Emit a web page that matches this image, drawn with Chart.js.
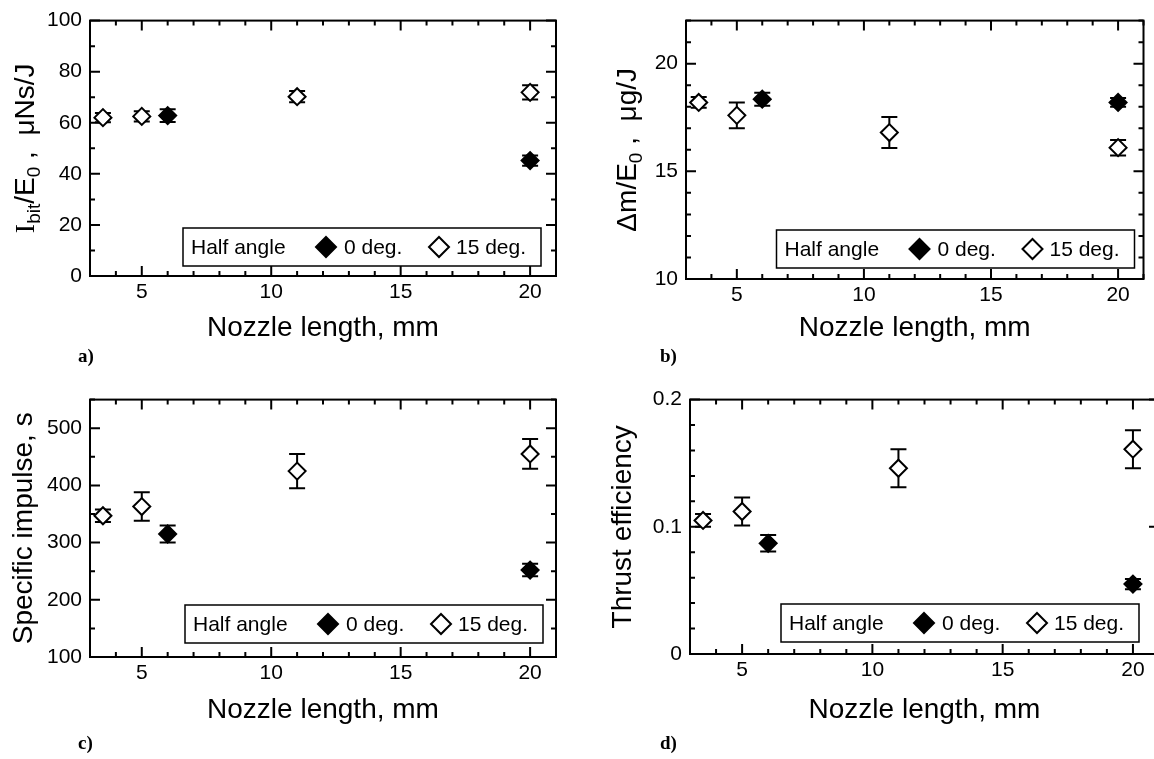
<!DOCTYPE html>
<html><head><meta charset="utf-8">
<script src="https://cdn.jsdelivr.net/npm/chart.js@4.4.1/dist/chart.umd.min.js"></script>
<style>
html,body{margin:0;padding:0;background:#fff;overflow:hidden;width:1154px;height:759px;position:relative;}
canvas{position:absolute;display:block;}
.cap{position:absolute;font:bold 19px "Liberation Serif","Times New Roman",serif;color:#000;line-height:1;}
</style></head><body>
<canvas id="ca" width="577" height="379" style="left:0;top:0"></canvas>
<canvas id="cb" width="577" height="379" style="left:577px;top:0"></canvas>
<canvas id="cc" width="577" height="380" style="left:0;top:379px"></canvas>
<canvas id="cd" width="600" height="380" style="left:577px;top:379px"></canvas>
<div class="cap" style="left:78px;top:346px">a)</div>
<div class="cap" style="left:660px;top:346px">b)</div>
<div class="cap" style="left:78px;top:733px">c)</div>
<div class="cap" style="left:660px;top:733px">d)</div>
<script>
// ---- data ----
const xFilled = [6, 20];            // 0 deg. half angle
const xOpen = [3.5, 5, 11, 20];     // 15 deg. half angle
const xTicks = [5, 10, 15, 20];
const seriesNames = ['0 deg.', '15 deg.'];
const legendTitle = 'Half angle';
const xTitle = 'Nozzle length, mm';

// a) impulse bit per energy, uNs/J
const impFilled = [62.8, 45.2];
const impFilledErr = [2.5, 2.0];
const impOpen = [62.0, 62.5, 70.2, 71.9];
const impOpenErr = [1.8, 2.0, 2.2, 2.8];
const impTicks = [0, 20, 40, 60, 80, 100];

// b) mass shot per energy, ug/J
const massFilled = [18.35, 18.2];
const massFilledErr = [0.3, 0.2];
const massOpen = [18.2, 17.6, 16.8, 16.1];
const massOpenErr = [0.25, 0.6, 0.72, 0.36];
const massTicks = [10, 15, 20];

// c) specific impulse, s
const ispFilled = [315, 252];
const ispFilledErr = [15, 11];
const ispOpen = [347, 363, 425, 455];
const ispOpenErr = [11, 25, 30, 26];
const ispTicks = [100, 200, 300, 400, 500];
const ispTitle = 'Specific impulse, s';

// d) thrust efficiency
const effFilled = [0.087, 0.055];
const effFilledErr = [0.0065, 0.004];
const effOpen = [0.105, 0.112, 0.146, 0.161];
const effOpenErr = [0.005, 0.011, 0.015, 0.015];
const effTicks = [0, 0.1, 0.2];
const effTitle = 'Thrust efficiency';

const titleA = [['I', 'n', 'serif'], ['bit', 's'], ['/E', 'n'], ['0', 's'], [' ,  \u03bcNs/J', 'n']];
const titleB = [['\u0394m/E', 'n'], ['0', 's'], [' ,  \u03bcg/J', 'n']];

// ---- drawing helpers ----
const FONT = '"Liberation Sans", Arial, sans-serif';
const SERIF = '"Liberation Serif", "Times New Roman", serif';

const framePlugin = {
  id: 'frame',
  beforeDatasetsDraw(chart, args, opts) {
    const {ctx, chartArea: a, scales: {x, y}} = chart;
    ctx.save();
    ctx.strokeStyle = '#000';
    ctx.lineWidth = 2;
    ctx.strokeRect(a.left, a.top, a.right - a.left, a.bottom - a.top);
    const set = (scale, step) => {
      const out = [];
      const n0 = Math.ceil(scale.min / step - 1e-6), n1 = Math.floor(scale.max / step + 1e-6);
      for (let n = n0; n <= n1; n++) {
        const v = n * step;
        out.push({v, major: scale.ticks.some(t => Math.abs(t.value - v) < step * 1e-3)});
      }
      return out;
    };
    ctx.beginPath();
    for (const t of set(x, opts.minorX)) {
      const p = x.getPixelForValue(t.v), L = t.major ? 10 : 5;
      ctx.moveTo(p, a.bottom); ctx.lineTo(p, a.bottom - L);
      ctx.moveTo(p, a.top); ctx.lineTo(p, a.top + L);
    }
    for (const t of set(y, opts.minorY)) {
      const p = y.getPixelForValue(t.v), L = t.major ? 10 : 5;
      ctx.moveTo(a.left, p); ctx.lineTo(a.left + L, p);
      ctx.moveTo(a.right, p); ctx.lineTo(a.right - L, p);
    }
    ctx.stroke();
    ctx.restore();
  }
};

const errPlugin = {
  id: 'errbars',
  beforeDatasetsDraw(chart) {
    const {ctx, scales: {x, y}} = chart;
    ctx.save();
    ctx.strokeStyle = '#000';
    ctx.lineWidth = 2;
    chart.data.datasets.forEach(ds => {
      ds.data.forEach((pt, i) => {
        const e = ds.err[i];
        const px = x.getPixelForValue(pt.x);
        const yHi = y.getPixelForValue(pt.y + e), yLo = y.getPixelForValue(pt.y - e);
        ctx.beginPath();
        ctx.moveTo(px, yLo); ctx.lineTo(px, yHi);
        ctx.moveTo(px - 8, yLo); ctx.lineTo(px + 8, yLo);
        ctx.moveTo(px - 8, yHi); ctx.lineTo(px + 8, yHi);
        ctx.stroke();
      });
    });
    ctx.restore();
  }
};

function diamond(ctx, cx, cy, r, fill) {
  ctx.beginPath();
  ctx.moveTo(cx, cy - r); ctx.lineTo(cx + r, cy); ctx.lineTo(cx, cy + r); ctx.lineTo(cx - r, cy); ctx.closePath();
  ctx.fillStyle = fill; ctx.fill();
  ctx.lineWidth = 2; ctx.strokeStyle = '#000'; ctx.stroke();
}

const boxLegendPlugin = {
  id: 'boxLegend',
  afterDatasetsDraw(chart, args, o) {
    const {ctx, chartArea: a} = chart;
    const w = 358, h = 38;
    const right = a.right - o.dr, bottom = a.bottom - o.db;
    const left = right - w, top = bottom - h, cy = top + h / 2;
    ctx.save();
    ctx.fillStyle = '#fff';
    ctx.fillRect(left, top, w, h);
    ctx.lineWidth = 1.5; ctx.strokeStyle = '#000';
    ctx.strokeRect(left, top, w, h);
    ctx.fillStyle = '#000';
    ctx.font = '21px ' + FONT;
    ctx.textBaseline = 'middle';
    ctx.textAlign = 'left';
    ctx.fillText(legendTitle, left + 8, cy + 1);
    diamond(ctx, left + 143, cy, 10, '#000');
    ctx.fillStyle = '#000';
    ctx.fillText(seriesNames[0], left + 161, cy + 1);
    diamond(ctx, left + 256, cy, 10, '#fff');
    ctx.fillStyle = '#000';
    ctx.fillText(seriesNames[1], left + 273, cy + 1);
    ctx.restore();
  }
};

const segTitlePlugin = {
  id: 'segTitle',
  afterDraw(chart, args, o) {
    if (!o.segs) return;
    const {ctx, chartArea: a, scales: {y}} = chart;
    const cx = y.left + 16.8, cy = (a.top + a.bottom) / 2;
    const fontOf = s => (s[1] === 's' ? '19px ' : '28px ') + (s[2] === 'serif' ? SERIF : FONT);
    ctx.save();
    let total = 0;
    for (const s of o.segs) { ctx.font = fontOf(s); total += ctx.measureText(s[0]).width; }
    ctx.translate(cx, cy);
    ctx.rotate(-Math.PI / 2);
    ctx.fillStyle = '#000';
    ctx.textBaseline = 'alphabetic';
    ctx.textAlign = 'left';
    let xx = -total / 2;
    for (const s of o.segs) {
      ctx.font = fontOf(s);
      ctx.fillText(s[0], xx, s[1] === 's' ? 16 : 10);
      xx += ctx.measureText(s[0]).width;
    }
    ctx.restore();
  }
};

function makeChart(id, p) {
  const tickFont = {family: FONT, size: 21};
  const titleFont = {family: FONT, size: 28};
  return new Chart(document.getElementById(id), {
    type: 'scatter',
    data: {
      datasets: [
        {label: seriesNames[0], data: xFilled.map((x, i) => ({x, y: p.filled[i]})), err: p.filledErr,
         pointStyle: 'rectRot', pointRadius: 8.5, pointBorderWidth: 2,
         pointBackgroundColor: '#000', pointBorderColor: '#000', showLine: false},
        {label: seriesNames[1], data: xOpen.map((x, i) => ({x, y: p.open[i]})), err: p.openErr,
         pointStyle: 'rectRot', pointRadius: 8.5, pointBorderWidth: 2,
         pointBackgroundColor: '#fff', pointBorderColor: '#000', showLine: false}
      ]
    },
    options: {
      responsive: false, animation: false, events: [],
      layout: {padding: p.pad},
      plugins: {
        legend: {display: false}, tooltip: {enabled: false},
        frame: {minorX: 1, minorY: p.minorY},
        boxLegend: p.leg,
        segTitle: {segs: p.segs}
      },
      scales: {
        x: {
          type: 'linear', min: 3, max: 21,
          afterBuildTicks: s => { s.ticks = xTicks.map(v => ({value: v})); },
          afterFit: s => { s.height = p.xh; },
          grid: {display: false, drawTicks: false}, border: {display: false},
          ticks: {font: tickFont, color: '#000', padding: 4, maxRotation: 0, autoSkip: false, callback: v => String(v)},
          title: {display: true, text: xTitle, font: titleFont, color: '#000', padding: 0}
        },
        y: {
          type: 'linear', min: p.ymin, max: p.ymax,
          afterBuildTicks: s => { s.ticks = p.yTicks.map(v => ({value: v})); },
          afterFit: s => { s.width = p.yw; },
          grid: {display: false, drawTicks: false}, border: {display: false},
          ticks: {font: tickFont, color: '#000', padding: 8, autoSkip: false, callback: v => String(v)},
          title: p.yTitle ? {display: true, text: p.yTitle, font: titleFont, color: '#000', padding: 0} : {display: false}
        }
      }
    },
    plugins: [framePlugin, errPlugin, boxLegendPlugin, segTitlePlugin]
  });
}

makeChart('ca', {filled: impFilled, filledErr: impFilledErr, open: impOpen, openErr: impOpenErr,
  yTicks: impTicks, ymin: 0, ymax: 100, minorY: 10, segs: titleA,
  pad: {left: 7, right: 21, top: 13, bottom: 34}, yw: 83, xh: 69, leg: {dr: 15, db: 10}});
makeChart('cb', {filled: massFilled, filledErr: massFilledErr, open: massOpen, openErr: massOpenErr,
  yTicks: massTicks, ymin: 10, ymax: 22, minorY: 1, segs: titleB,
  pad: {left: 32, right: 6, top: 13, bottom: 34}, yw: 77, xh: 66, leg: {dr: 9, db: 11}});
makeChart('cc', {filled: ispFilled, filledErr: ispFilledErr, open: ispOpen, openErr: ispOpenErr,
  yTicks: ispTicks, ymin: 100, ymax: 550, minorY: 50, yTitle: ispTitle,
  pad: {left: 7, right: 21, top: 15, bottom: 32}, yw: 83, xh: 70, leg: {dr: 13, db: 14}});
makeChart('cd', {filled: effFilled, filledErr: effFilledErr, open: effOpen, openErr: effOpenErr,
  yTicks: effTicks, ymin: 0, ymax: 0.2, minorY: 0.02, yTitle: effTitle,
  pad: {left: 29, right: 18, top: 13, bottom: 32}, yw: 84, xh: 73, leg: {dr: 20, db: 12}});
</script>
</body></html>
